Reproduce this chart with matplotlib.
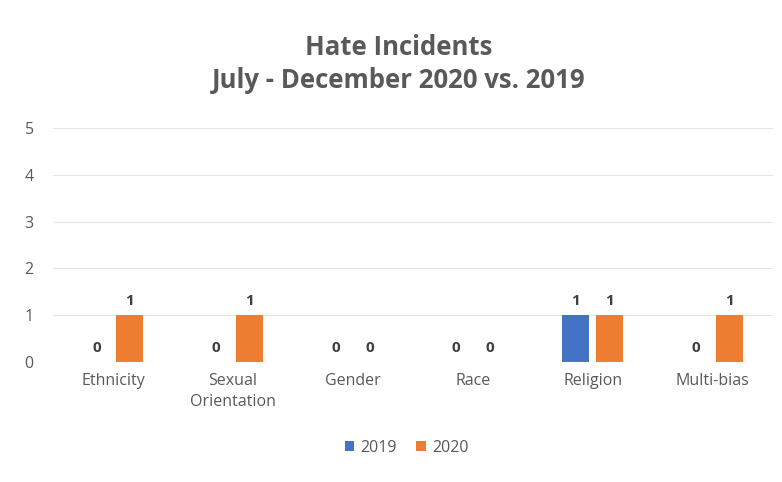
import matplotlib.pyplot as plt
import numpy as np

categories = ["Ethnicity", "Sexual\nOrientation", "Gender", "Race", "Religion", "Multi-bias"]
incidents_2019 = [0, 0, 0, 0, 1, 0]
incidents_2020 = [1, 1, 0, 0, 1, 1]

plt.rcParams['font.family'] = ['Open Sans', 'DejaVu Sans']

fig = plt.figure(figsize=(7.82, 4.82), dpi=100)
ax = fig.add_axes([0.068, 0.249, 0.92, 0.485])

x = np.arange(len(categories))
w = 0.225
off = 0.14
b1 = ax.bar(x - off, incidents_2019, w, color="#4472C4", label="2019")
b2 = ax.bar(x + off, incidents_2020, w, color="#ED7D31", label="2020")

for bars in (b1, b2):
    ax.bar_label(bars, padding=5, fontsize=11, fontweight="bold", color="#404040")

ax.set_ylim(0, 5)
ax.set_xlim(-0.5, len(categories) - 0.5)
ax.set_yticks(range(6))
ax.set_xticks(x)
ax.set_xticklabels(categories, linespacing=1.4)
ax.tick_params(axis="both", length=0, colors="#595959", labelsize=11.5)
ax.tick_params(axis="y", pad=14)
ax.tick_params(axis="x", pad=8)
ax.grid(axis="y", color="#e6e6e6", linewidth=0.8)
ax.set_axisbelow(True)
for s in ax.spines.values():
    s.set_visible(False)
ax.axhline(0, color="#d9d9d9", linewidth=0.8)

fig.suptitle("Hate Incidents\nJuly - December 2020 vs. 2019", x=0.51, y=0.93,
             fontsize=18.5, fontweight="bold", color="#595959", linespacing=1.3)

fig.legend(loc="lower center", bbox_to_anchor=(0.52, 0.025), ncol=2, frameon=False,
           fontsize=11.5, handlelength=0.6, handleheight=0.6, columnspacing=1.2,
           handletextpad=0.4, labelcolor="#595959")

plt.savefig("out.png", dpi=100)
